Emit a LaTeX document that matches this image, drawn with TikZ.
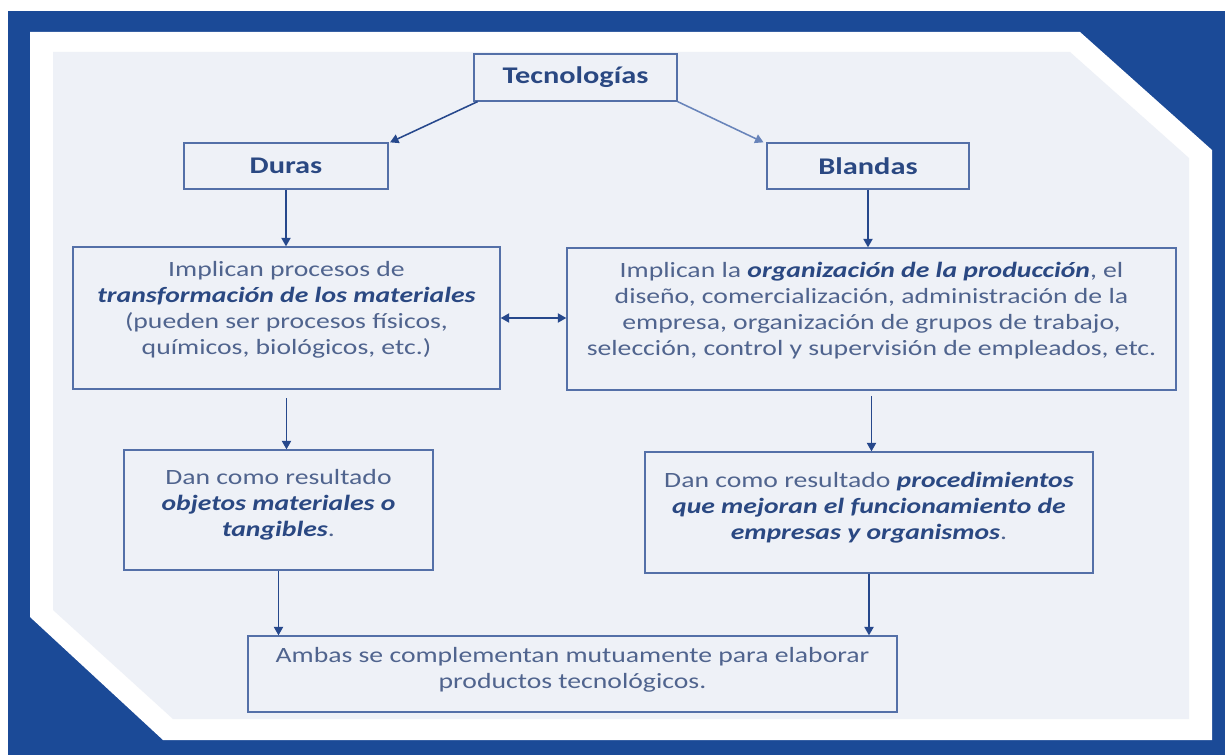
\documentclass[tikz,border=0pt]{standalone}
\usepackage{fontspec}
\setmainfont[FakeStretch=1.27]{Carlito}
\usetikzlibrary{arrows.meta}
\definecolor{fondo}{RGB}{27,74,151}
\definecolor{panel}{RGB}{238,241,247}
\definecolor{borde}{RGB}{84,112,168}
\definecolor{texto}{RGB}{80,100,142}
\definecolor{oscuro}{RGB}{42,72,130}
\definecolor{flecha}{RGB}{38,72,140}
\definecolor{flechaclara}{RGB}{104,132,186}
\newcommand{\enf}[1]{\textcolor{oscuro}{\textbf{\textit{#1}}}}

\begin{document}
\begin{tikzpicture}[x=0.025cm,y=-0.025cm,
  caja/.style={draw=borde,line width=0.9pt,align=center,text=texto,inner sep=0pt,
    text depth=14pt,font=\fontsize{15.5}{18.5}\selectfont},
  titulo/.style={caja,text depth=,text=oscuro,font=\fontsize{17}{19}\selectfont\bfseries},
  >={Triangle[length=6pt,width=6.5pt]}]
  \useasboundingbox (0,0) rectangle (1225,755);
  % fondo
  \fill[white] (0,0) rectangle (1225,755);
  \fill[fondo] (8,11) rectangle (1225,755);
  \fill[white] (30,32) -- (1080,32) -- (1212,150) -- (1212,740) -- (163,740) -- (30,617) -- cycle;
  \fill[panel] (53,52) -- (1070,52) -- (1189,158) -- (1189,719) -- (173,719) -- (53,610) -- cycle;
  % cajas
  \node[titulo,minimum width=5.075cm,minimum height=1.175cm] (0) at (575.5,77.5) {Tecnologías};
  \node[titulo,minimum width=5.1cm,minimum height=1.15cm] (1) at (286,166) {Duras};
  \node[titulo,minimum width=5.05cm,minimum height=1.15cm] (2) at (868,166) {Blandas};
  \node[caja,minimum width=10.675cm,minimum height=3.55cm] (3) at (286.5,318) {Implican procesos de\\
    \enf{transformación de los materiales}\\ (pueden ser procesos físicos,\\ químicos, biológicos, etc.)};
  \node[caja,minimum width=15.225cm,minimum height=3.55cm] (4) at (871.5,319) {Implican la
    \enf{organización de la producción}, el\\ diseño, comercialización, administración de la\\
    empresa, organización de grupos de trabajo,\\ selección, control y supervisión de empleados, etc.};
  \node[caja,text depth=10pt,minimum width=7.725cm,minimum height=3cm] (5) at (278.5,510) {Dan como
    resultado\\ \enf{objetos materiales o}\\ \enf{tangibles}.};
  \node[caja,text depth=10pt,minimum width=11.2cm,minimum height=3.025cm] (6) at (869,512.5) {Dan como
    resultado \enf{procedimientos}\\ \enf{que mejoran el funcionamiento de}\\ \enf{empresas y organismos}.};
  \node[caja,text depth=8pt,minimum width=16.225cm,minimum height=1.9cm] (7) at (572.5,674) {Ambas se
    complementan mutuamente para elaborar\\ productos tecnológicos.};
  % flechas
  \draw[->,flecha,line width=1.1pt] ([xshift=3pt]0.south west) -- ([xshift=1pt]1.north east);
  \draw[->,flechaclara,line width=1.1pt] (0.south east) -- ([xshift=-2pt]2.north west);
  \draw[->,flecha,line width=1.1pt] (1.south) -- (1.south |- 3.north);
  \draw[->,flecha,line width=1.1pt] (2.south) -- (2.south |- 4.north);
  \draw[<->,flecha,line width=1.1pt] (3.east) -- (3.east -| 4.west);
  \draw[->,flecha,line width=1.1pt,shorten <=6pt] (3.south) -- (3.south |- 5.north);
  \draw[->,flecha,line width=1.1pt,shorten <=4pt] (4.south) -- (4.south |- 6.north);
  \draw[->,flecha,line width=1.1pt] (5.south) -- (5.south |- 7.north);
  \draw[->,flecha,line width=1.1pt] (6.south) -- (6.south |- 7.north);
\end{tikzpicture}
\end{document}
